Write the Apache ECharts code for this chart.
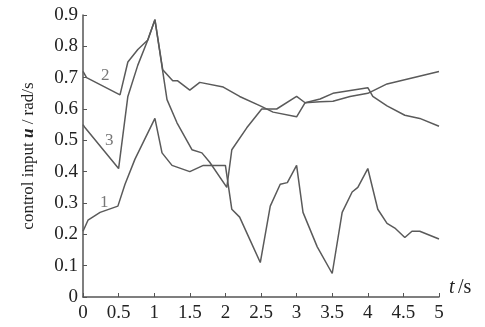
<!DOCTYPE html>
<html><head><meta charset="utf-8">
<script src="https://cdn.jsdelivr.net/npm/echarts@6/dist/echarts.min.js"></script>
<style>html,body{margin:0;padding:0;background:#fff}#c{width:485px;height:327px}</style>
</head><body><div id="c"></div>
<script>
const xTicks = [0,0.5,1,1.5,2,2.5,3,3.5,4,4.5,5];
const yTicks = [0,0.1,0.2,0.3,0.4,0.5,0.6,0.7,0.8,0.9];
const curve1 = [[0,0.21],[0.07,0.245],[0.24,0.27],[0.49,0.29],[0.59,0.36],[0.73,0.44],[1.01,0.57],[1.11,0.46],[1.25,0.42],[1.5,0.40],[1.69,0.42],[2.0,0.42],[2.09,0.28],[2.2,0.255],[2.35,0.18],[2.49,0.11],[2.63,0.29],[2.77,0.36],[2.87,0.365],[3.0,0.42],[3.09,0.27],[3.29,0.16],[3.5,0.075],[3.64,0.27],[3.78,0.335],[3.86,0.35],[4.0,0.41],[4.14,0.28],[4.27,0.235],[4.38,0.22],[4.52,0.19],[4.62,0.21],[4.73,0.21],[5.0,0.185]];
const curve2 = [[0,0.72],[0.05,0.70],[0.52,0.645],[0.63,0.75],[0.77,0.79],[0.91,0.82],[1.01,0.885],[1.12,0.725],[1.26,0.69],[1.33,0.69],[1.5,0.66],[1.64,0.685],[1.97,0.67],[2.2,0.64],[2.49,0.61],[2.67,0.59],[3.0,0.575],[3.12,0.62],[3.33,0.623],[3.51,0.625],[3.75,0.64],[4.0,0.65],[4.27,0.68],[5.0,0.72]];
const curve3 = [[0,0.55],[0.03,0.54],[0.5,0.41],[0.63,0.64],[0.77,0.74],[0.91,0.82],[1.01,0.885],[1.18,0.63],[1.32,0.556],[1.53,0.47],[1.67,0.46],[1.78,0.43],[2.02,0.35],[2.09,0.47],[2.3,0.54],[2.51,0.6],[2.72,0.6],[3.0,0.64],[3.12,0.62],[3.33,0.632],[3.51,0.65],[4.0,0.668],[4.07,0.64],[4.27,0.61],[4.52,0.58],[4.73,0.57],[5.0,0.545]];
const curveLabels = ['1','2','3'];

const serif = '"Liberation Serif", "DejaVu Serif", serif';
const lineColor = '#5a5a5a';
function mk(d){return {type:'line',data:d,showSymbol:false,smooth:false,lineStyle:{color:lineColor,width:1.5},animation:false};}

const chart = echarts.init(document.getElementById('c'));
chart.setOption({
  backgroundColor:'#fff',
  animation:false,
  grid:{left:83,right:46,top:15,bottom:30},
  xAxis:{type:'value',min:0,max:5,interval:0.5,
    axisLine:{lineStyle:{color:'#555',width:1.5}},
    axisTick:{inside:true,length:4,lineStyle:{color:'#555'}},
    splitLine:{show:false},
    axisLabel:{color:'#222',fontFamily:serif,fontSize:19,margin:7,formatter:v=>String(v)},
    name:'{i|t} {n|/s}',nameLocation:'end',nameGap:10,
    nameTextStyle:{padding:[0,0,18,0],rich:{i:{fontFamily:serif,fontStyle:'italic',fontSize:20,color:'#222'},n:{fontFamily:serif,fontSize:20,color:'#222'}}}
  },
  yAxis:{type:'value',min:0,max:0.9,interval:0.1,
    axisLine:{show:true,lineStyle:{color:'#555',width:1.5}},
    axisTick:{show:true,inside:true,length:4,lineStyle:{color:'#555'}},
    splitLine:{show:false},
    axisLabel:{color:'#222',fontFamily:serif,fontSize:19,margin:5,formatter:v=>String(Math.round(v*10)/10)},
    name:'{n|control input }{u|u}{n| / rad/s}',nameLocation:'middle',nameRotate:90,nameGap:46,
    nameTextStyle:{rich:{n:{fontFamily:serif,fontSize:17,color:'#222'},u:{fontFamily:serif,fontStyle:'italic',fontWeight:'bold',fontSize:17,color:'#222'}}}
  },
  series:[mk(curve1),mk(curve2),mk(curve3)],
  graphic:[
    {type:'text',left:100,top:194,style:{text:curveLabels[0],font:'17px '+serif,fill:'#777'}},
    {type:'text',left:101,top:67,style:{text:curveLabels[1],font:'17px '+serif,fill:'#777'}},
    {type:'text',left:105,top:132,style:{text:curveLabels[2],font:'17px '+serif,fill:'#777'}}
  ]
});
</script></body></html>
